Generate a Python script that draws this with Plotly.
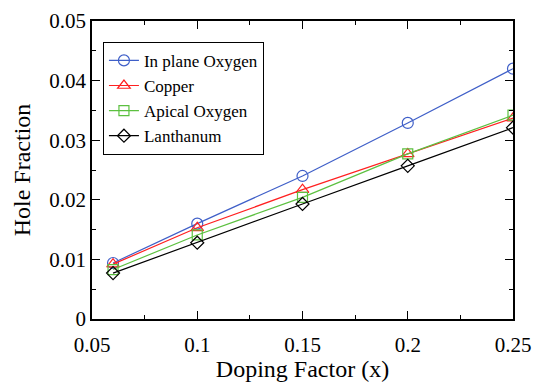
import plotly.graph_objects as go

doping = [0.06, 0.1, 0.15, 0.2, 0.25]
inplane_oxygen = [0.0094, 0.0160, 0.0240, 0.0329, 0.0420]
copper = [0.0092, 0.0153, 0.0217, 0.0277, 0.0337]
apical_oxygen = [0.0083, 0.0141, 0.0204, 0.0277, 0.0342]
lanthanum = [0.0077, 0.0128, 0.0193, 0.0257, 0.0321]

names = ["In plane Oxygen", "Copper", "Apical Oxygen", "Lanthanum"]
colors = ["#3f5fc8", "#ff2020", "#5cc040", "#000000"]
symbols = ["circle-open", "triangle-up-open", "square-open", "diamond-open"]
sizes = [11, 11, 10, 10]

fig = go.Figure()
for name, ys, c, s, sz in zip(names, [inplane_oxygen, copper, apical_oxygen, lanthanum], colors, symbols, sizes):
    fig.add_trace(go.Scatter(
        x=doping, y=ys, name=name, mode="lines+markers",
        line=dict(color=c, width=1.2),
        marker=dict(symbol=s, size=sz, color=c, line=dict(color=c, width=1.2)),
    ))

font_family = "Liberation Serif"
axis_common = dict(
    showline=True, linecolor="black", linewidth=1.5, mirror="ticks",
    ticks="inside", ticklen=8, tickwidth=1, tickcolor="black",
    showgrid=False, zeroline=False, automargin=False,
    tickfont=dict(family=font_family, size=21, color="black", weight="normal"),
)
fig.update_layout(
    width=536, height=374,
    margin=dict(l=84, r=31, t=13, b=63),
    paper_bgcolor="white", plot_bgcolor="white",
    font=dict(family=font_family, color="black", weight="normal"),
    xaxis=dict(range=[0.05, 0.25], tickvals=[0.05, 0.1, 0.15, 0.2, 0.25],
               ticktext=["0.05", "0.1", "0.15", "0.2", "0.25"],
               ticklabelstandoff=6,
               minor=dict(ticks="inside", ticklen=4, dtick=0.025, tick0=0.05, tickcolor="black"),
               title=dict(text="Doping Factor (x)", font=dict(family=font_family, size=24, weight="normal"), standoff=8),
               **axis_common),
    yaxis=dict(range=[0, 0.05], tickvals=[0, 0.01, 0.02, 0.03, 0.04, 0.05],
               ticktext=["0", "0.01", "0.02", "0.03", "0.04", "0.05"],
               minor=dict(ticks="inside", ticklen=4, dtick=0.005, tick0=0, tickcolor="black"),
               title=dict(text="Hole Fraction", font=dict(family=font_family, size=24, weight="normal"), standoff=12),
               **axis_common),
    legend=dict(x=0.026, y=0.93, xanchor="left", yanchor="top",
                bgcolor="white", bordercolor="black", borderwidth=1,
                font=dict(family=font_family, size=17, color="black", weight="normal"),
                tracegroupgap=0, itemwidth=30),
    showlegend=True,
)
fig.write_html("out.html")
